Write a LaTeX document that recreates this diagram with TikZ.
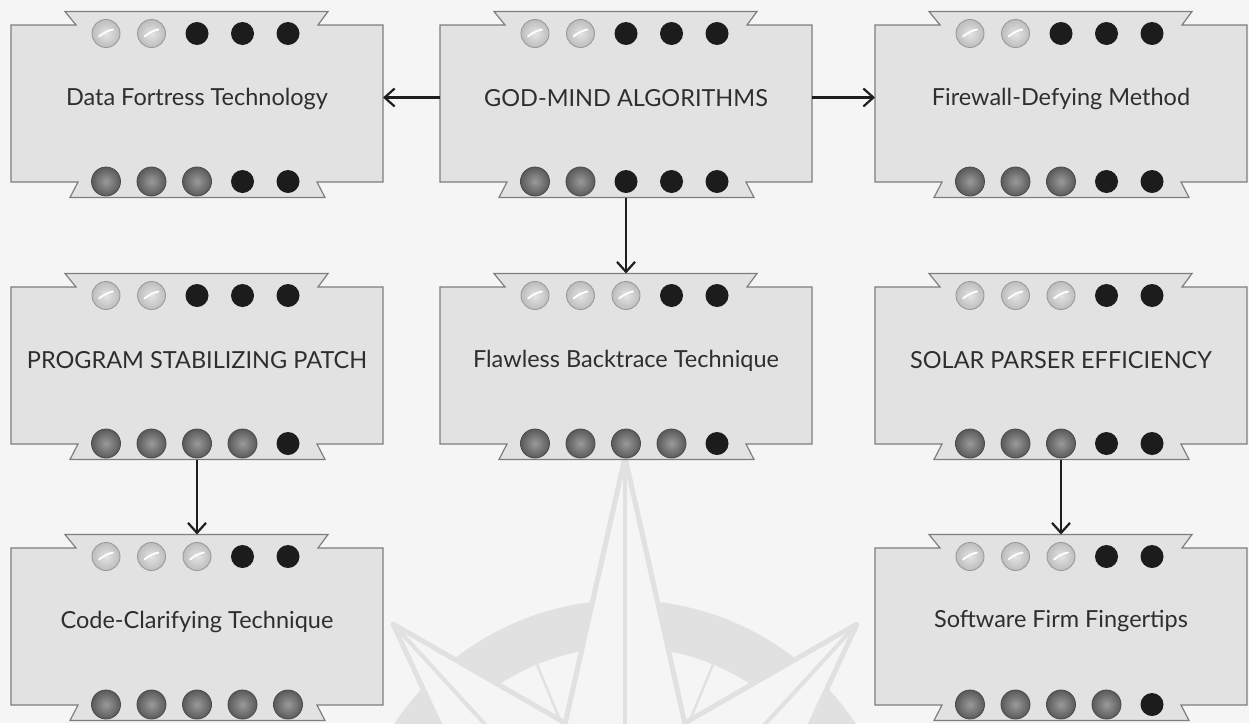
\documentclass[tikz,border=0pt]{standalone}
\usepackage{fontspec}
\setmainfont{Lato}
\usetikzlibrary{arrows.meta}
\definecolor{bg}{HTML}{F5F5F5}
\definecolor{compass}{HTML}{E1E1E1}
\definecolor{boxfill}{HTML}{E2E2E2}
\definecolor{boxline}{HTML}{7E7E7E}
\definecolor{txt}{HTML}{2E2E2E}
\definecolor{arr}{HTML}{1E1E1E}
\definecolor{lightin}{HTML}{E4E4E4}
\definecolor{lightout}{HTML}{BDBDBD}
\definecolor{lightrim}{HTML}{9A9A9A}
\definecolor{midin}{HTML}{9A9A9A}
\definecolor{midout}{HTML}{5A5A5A}
\definecolor{midrim}{HTML}{4A4A4A}
\definecolor{darkball}{HTML}{1C1C1C}
\tikzset{
  x=1pt, y=-1pt,
  ribbon/.style={fill=boxfill, draw=boxline, line width=1.2pt, line join=miter},
  boxlabel/.style={font=\fontsize{23.5}{28}\selectfont, text=txt, inner sep=0pt},
  conn/.style={draw=arr, line width=2.2pt, -{Straight Barb[length=10pt,width=18pt,line width=2.2pt]}},
  rose/.style={draw=compass, line width=5pt, fill=bg, line join=round},
  roseline/.style={draw=compass, line width=4pt},
  minorray/.style={draw=compass, line width=2.5pt},
}
\newcommand\marble[3]{%
  \if#1L%
    \shade[inner color=lightin, outer color=lightout] (#2,#3) circle[radius=14pt];
    \draw[lightrim, line width=0.9pt] (#2,#3) circle[radius=14pt];
    \draw[white, line width=1.8pt, line cap=round] ({#2-7},{#3+3}) .. controls ({#2-2},{#3-1}) and ({#2+2},{#3-3}) .. ({#2+7},{#3-4});
  \fi
  \if#1M%
    \shade[inner color=midin, outer color=midout] (#2,#3) circle[radius=14.5pt];
    \draw[midrim, line width=0.8pt] (#2,#3) circle[radius=14.5pt];
  \fi
  \if#1D%
    \fill[darkball] (#2,#3) circle[radius=11.5pt];
  \fi
}
\newcommand\ribbonbox[6]{%
  \path[ribbon] ({#2-186},{#3-78.5}) -- ({#2-121},{#3-78.5}) -- ({#2-132},{#3-92}) -- ({#2+131},{#3-92})
    -- ({#2+121},{#3-78.5}) -- ({#2+186},{#3-78.5}) -- ({#2+186},{#3+78.5}) -- ({#2+120},{#3+78.5})
    -- ({#2+128},{#3+94}) -- ({#2-127},{#3+94}) -- ({#2-119},{#3+78.5}) -- ({#2-186},{#3+78.5}) -- cycle;
  \node[boxlabel] (#1) at ({#2},{#3-5}) {#4};
  \coordinate (#1-w) at ({#2-186},{#3-6});
  \coordinate (#1-e) at ({#2+186},{#3-6});
  \coordinate (#1-n) at ({#2},{#3-92});
  \coordinate (#1-s) at ({#2},{#3+94});
  \pgfmathsetmacro\ytop{#3-70}%
  \pgfmathsetmacro\ybot{#3+78}%
  \foreach \k [count=\i] in {#5} {\pgfmathsetmacro\xx{#2+(\i-3)*45.5}\marble{\k}{\xx}{\ytop}}
  \foreach \k [count=\i] in {#6} {\pgfmathsetmacro\xx{#2+(\i-3)*45.5}\marble{\k}{\xx}{\ybot}}
}
\begin{document}
\begin{tikzpicture}
\useasboundingbox (0,0) rectangle (1249,723);
\fill[bg] (0,0) rectangle (1249,723);
\begin{scope}
  \clip (0,0) rectangle (1249,723);
  % compass rose
  \fill[compass, even odd rule] (625,877) circle[radius=277pt] (625,877) circle[radius=230pt];
  \draw[minorray] (537,664.5) -- (579,766);
  \draw[minorray] (713,664.5) -- (671,766);
  \path[rose] (393,624) -- (567,724) -- (625,877) -- (477.6,806) -- cycle;
  \draw[roseline] (393,624) -- (625,877);
  \path[rose] (857,624) -- (683,724) -- (625,877) -- (772.4,806) -- cycle;
  \draw[roseline] (857,624) -- (625,877);
  \path[rose] (625,457) -- (548,800) -- (625,877) -- (702,800) -- cycle;
  \draw[roseline] (625,457) -- (625,877);
\end{scope}
% boxes
\ribbonbox{data}{197}{103.5}{Data Fortress Technology}{L,L,D,D,D}{M,M,M,D,D}
\ribbonbox{god}{626}{103.5}{GOD-MIND ALGORITHMS}{L,L,D,D,D}{M,M,D,D,D}
\ribbonbox{fire}{1061}{103.5}{Firewall-Defying Method}{L,L,D,D,D}{M,M,M,D,D}
\ribbonbox{prog}{197}{365.5}{PROGRAM STABILIZING PATCH}{L,L,D,D,D}{M,M,M,M,D}
\ribbonbox{flaw}{626}{365.5}{Flawless Backtrace Technique}{L,L,L,D,D}{M,M,M,M,D}
\ribbonbox{solar}{1061}{365.5}{SOLAR PARSER EFFICIENCY}{L,L,L,D,D}{M,M,M,D,D}
\ribbonbox{code}{197}{626.5}{Code-Clarifying Technique}{L,L,L,D,D}{M,M,M,M,M}
\ribbonbox{soft}{1061}{626.5}{Software Firm Fingertips}{L,L,L,D,D}{M,M,M,M,D}
% connectors
\draw[conn] (god-w) -- (data-e);
\draw[conn] (god-e) -- (fire-w);
\draw[conn] (god-s) -- (flaw-n);
\draw[conn] (prog-s) -- (code-n);
\draw[conn] (solar-s) -- (soft-n);
\end{tikzpicture}
\end{document}
